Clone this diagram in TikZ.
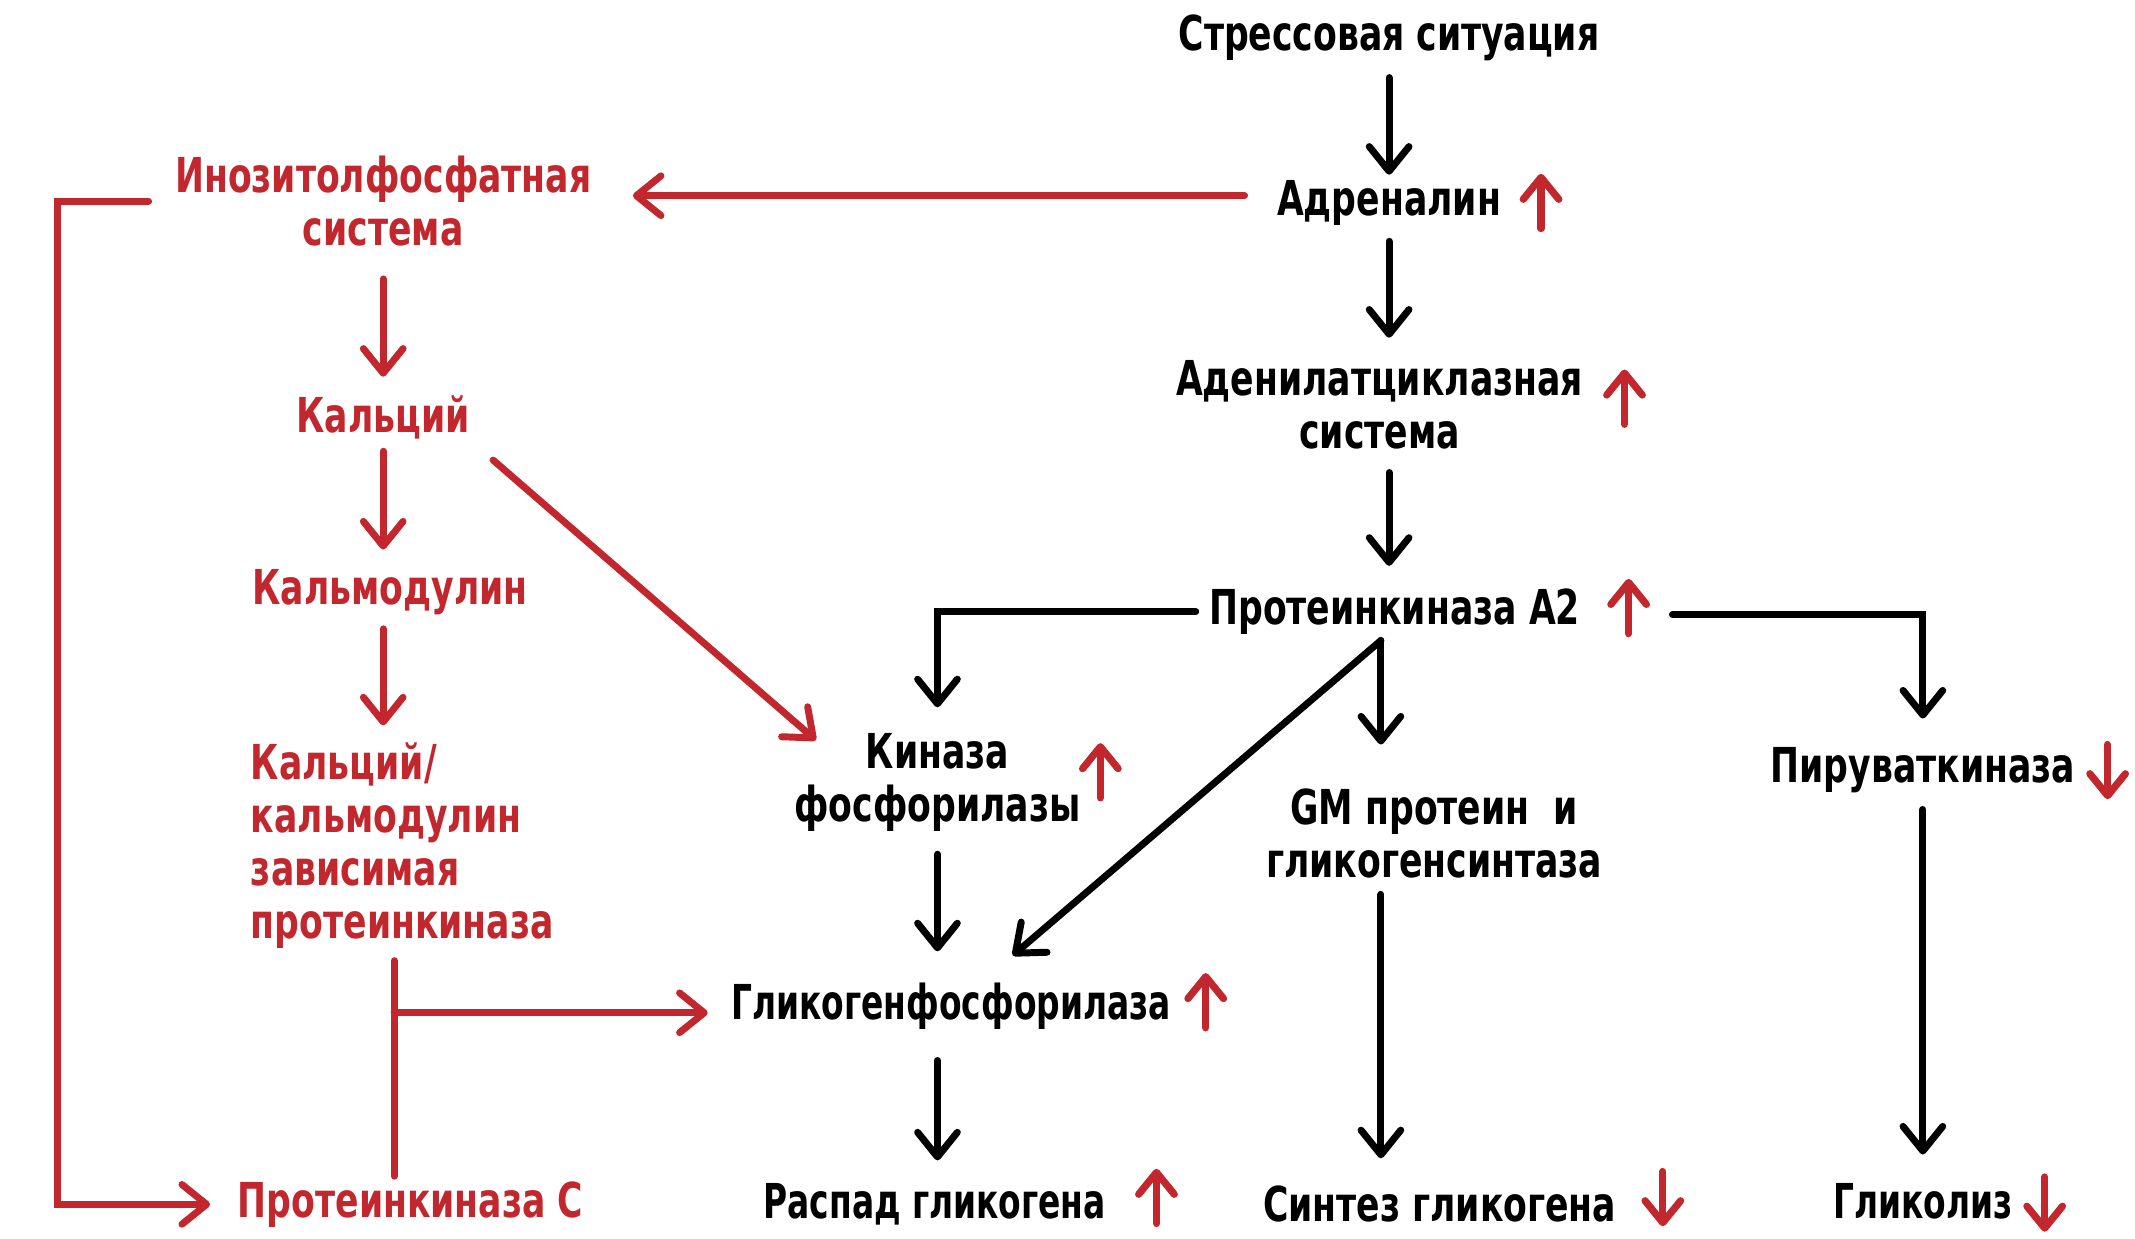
\documentclass[tikz,border=0pt]{standalone}
\usepackage{fontspec}
\newfontfamily\schemefont{DejaVu Sans Condensed Bold}[FakeStretch=0.8]
\newfontfamily\schemenarrow{DejaVu Sans Condensed Bold}[FakeStretch=0.76]
\usepackage{tikz}
\usetikzlibrary{arrows.meta}
\usetikzlibrary{positioning}
\definecolor{darkred}{RGB}{193,39,45}
\tikzset{>={Straight Barb[round,length=3.6mm,width=5.8mm]}}
\tikzset{
 blk/.style={font=\schemefont\fontsize{20}{22}\selectfont, align=center, inner sep=2pt, anchor=center},
 narrow/.style={font=\schemenarrow\fontsize{20}{22}\selectfont},
 rd/.style={blk, text=darkred},
 flow/.style={->, line width=2.9pt, line cap=round},
 redflow/.style={flow, draw=darkred},
 redline/.style={line width=2.9pt, line cap=round, draw=darkred},
 sign/.style={->, line width=3pt, line cap=round, draw=darkred, >={Straight Barb[round,length=3.2mm,width=5.2mm]}},
 upsign/.pic={\draw[sign] (0,20) -- (0,-20);},
 downsign/.pic={\draw[sign] (0,-20) -- (0,20);}
}

\begin{document}
\begin{tikzpicture}[x=0.2mm, y=-0.2mm]
\useasboundingbox (0,0) rectangle (1560,905.3);

 % main cascade, top to bottom
 \node[blk] (stress) at (1015,28) {Стрессовая ситуация};
 \node[blk, node distance=2.4cm, below of=stress] (adr) {Адреналин};
 \node[blk, node distance=2.95cm, below of=adr, xshift=-0.14cm] (ac) {Аденилатциклазная\\система};
 \node[blk, node distance=3.03cm, below of=ac, xshift=0.22cm] (pka) {Протеинкиназа А2};

 % left branch of A2
 \node[blk] (kin) at (685,571.5) {Киназа\\фосфорилазы};
 \node[blk, narrow, node distance=3.27cm, below of=kin, xshift=0.2cm] (gp) {Гликогенфосфорилаза};
 \node[blk, narrow, node distance=2.9cm, below of=gp, xshift=-0.24cm] (raspad) {Распад гликогена};

 % middle branch
 \node[blk] (gm) at (1048,609) {GM протеин\ \ и\\гликогенсинтаза};
 \node[blk, node distance=5.42cm, below of=gm, xshift=0.08cm] (sint) {Синтез гликогена};

 % right branch
 \node[blk] (pk) at (1405,563) {Пируваткиназа};
 \node[blk, narrow, node distance=6.3cm, below of=pk] (glyc) {Гликолиз};

 % inositol phosphate side (red)
 \node[rd] (ino) at (280,147) {Инозитолфосфатная\\система};
 \node[rd, node distance=3.16cm, below of=ino] (ca) {Кальций};
 \node[rd, node distance=2.56cm, below of=ca, xshift=0.1cm] (cam) {Кальмодулин};
 \node[rd, align=left] (camk) at (294,618) {Кальций/\\кальмодулин\\зависимая\\протеинкиназа};
 \node[rd] (pkc) at (300,880) {Протеинкиназа С};

 % free ends of the connectors
 \coordinate (fork) at (1009,468);
 \coordinate (pka-r) at (1222,449);
 \coordinate (loop) at (42,145);
 \coordinate (split) at (288,740);

 % up / down marks
 \foreach \p in {(1126,147),(1187,290),(1190,443),(804,563),(881,731),(845,874)}
  \pic at \p {upsign};
 \foreach \p in {(1215,876),(1540,564),(1494,880)}
  \pic at \p {downsign};

 % black arrows
 \path (stress.south) edge[flow, shorten <=0.16cm] (stress.south |- adr.north)
 (stress.south |- adr.south) edge[flow, shorten <=0.16cm, shorten >=0.25cm] (stress.south |- ac.north)
 (stress.south |- ac.south) edge[flow, shorten <=0.27cm, shorten >=0.26cm] (stress.south |- pka.north)
 (fork) edge[flow, shorten >=0.57cm] (fork |- gm.north)
 (fork) edge[flow] ([xshift=0.9cm,yshift=0.32cm]gp.north)
 (kin.south) edge[flow, shorten <=0.26cm, shorten >=0.38cm] (kin.south |- gp.north)
 (kin.south |- gp.south) edge[flow, shorten <=0.38cm, shorten >=0.26cm] (kin.south |- raspad.north)
 (fork |- gm.south) edge[flow, shorten <=0.16cm, shorten >=0.33cm] (fork |- sint.north)
 (pk.south) edge[flow, shorten <=0.16cm, shorten >=0.35cm] (pk.south |- glyc.north);
 \draw[flow, shorten <=0.12cm, shorten >=0.3cm] (pka.west) -| (kin.north);
 \draw[flow, shorten >=0.35cm] (pka-r) -| (pk.north);

 % red arrows
 \draw[redflow, shorten <=0.4cm, shorten >=0.53cm] ([yshift=0.1cm]adr.west) -- ([yshift=0.1cm]adr.west -| ino.east);
 \path (ino.south) edge[redflow, shorten <=0.4cm, shorten >=0.2cm] (ino.south |- ca.north)
 (ino.south |- ca.south) edge[redflow, shorten <=0.1cm, shorten >=0.22cm] (ino.south |- cam.north)
 (ino.south |- cam.south) edge[redflow, shorten <=0.12cm, shorten >=0.18cm] (ino.south |- camk.north)
 (ca.south east) edge[redflow, shorten <=0.35cm] ([xshift=0.39cm,yshift=-0.18cm]kin.north west);
 \draw[redflow, shorten <=0.31cm, shorten >=0.33cm] (ino.west) -- (ino.west -| loop) |- (pkc.west);
 \draw[redline, shorten <=0.1cm] (split |- camk.south) -- (split |- pkc.north);
 \draw[redflow, shorten >=0.27cm] (split) -- (split -| gp.west);

\end{tikzpicture}
\end{document}
